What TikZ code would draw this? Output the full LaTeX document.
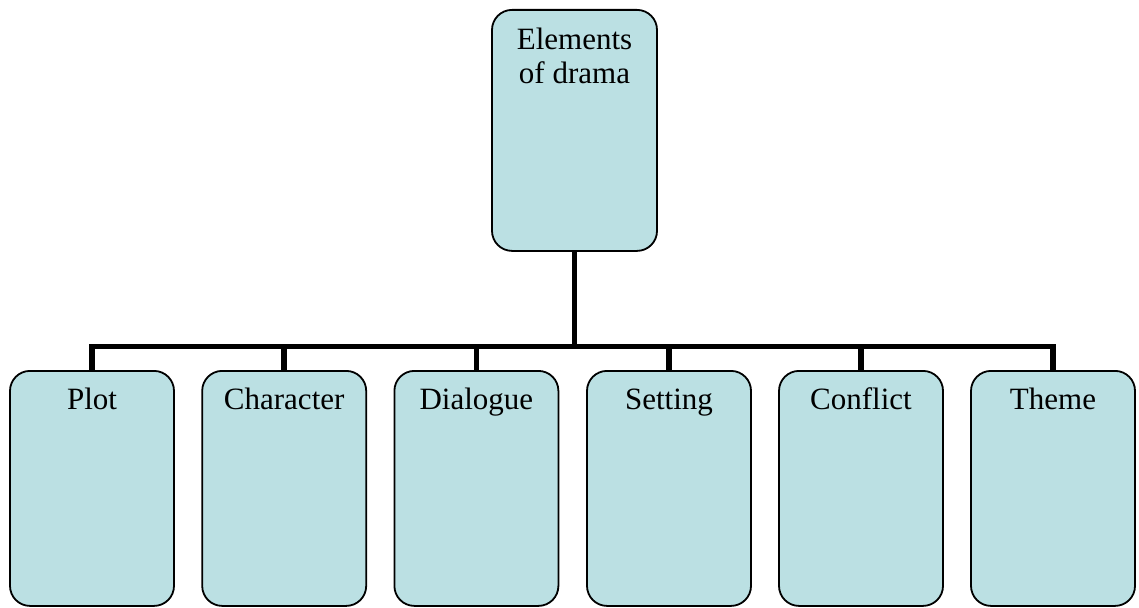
\documentclass[tikz,border=0pt]{standalone}
\usepackage{fontspec}
\setmainfont{Liberation Serif}
\definecolor{boxfill}{RGB}{187,224,227}
\tikzset{
	elem/.style={draw, line width=1.8pt, fill=boxfill, rounded corners=20pt,
		anchor=north, inner xsep=0pt, inner ysep=8pt, minimum width=164pt,
		text height=31pt, text depth=188pt,
		font=\fontsize{31}{34}\selectfont},
	bus/.style={line width=5.5pt}
}
\begin{document}
\begin{tikzpicture}[x=1pt,y=-1pt]
			\useasboundingbox (0,0) rectangle (1139,607);
			% root
			\node[elem, align=center, minimum width=165pt, text height=66pt, text depth=159pt] (root) at (574.5,9) {Elements\\of drama};
			% bus
			\coordinate (bus) at (574.5,346.5);
			\draw[bus] (root.south) -- (bus);
			% elements
			\foreach \x/\name/\txt in {92/plot/Plot, 284.2/char/Character, 476.4/dial/Dialogue,
				669/sett/Setting, 861/conf/Conflict, 1053/theme/Theme}{
				\node[elem] (\name) at (\x,370) {\txt};
				\draw[bus] (\name.north) |- (bus);
			}
\end{tikzpicture}
\end{document}
